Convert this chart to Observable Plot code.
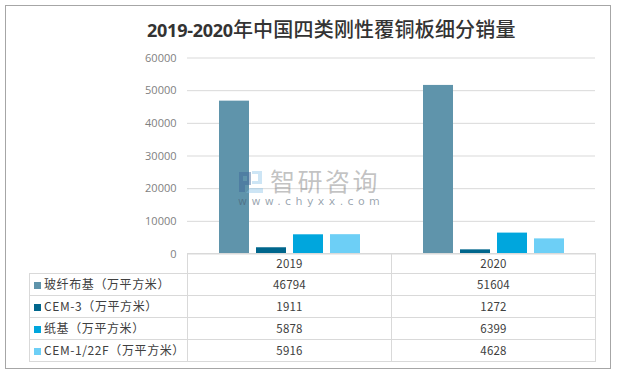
<!DOCTYPE html>
<html><head><meta charset="utf-8">
<script src="https://cdn.jsdelivr.net/npm/d3@7"></script>
<script src="https://cdn.jsdelivr.net/npm/@observablehq/plot@0.6"></script>
<style>
html,body{margin:0;padding:0;background:#fff;width:617px;height:377px;overflow:hidden}
#page{position:relative;width:617px;height:377px;font-family:"Noto Sans CJK SC","Noto Sans",sans-serif}
#frame{position:absolute;left:5px;top:5px;width:604px;height:362px;border:1px solid #a6a6a6;box-sizing:content-box}
#title{position:absolute;left:147px;top:16px;font-size:20px;font-weight:500;letter-spacing:.2px;color:#333;line-height:26px;white-space:nowrap}
#title b{font-family:"Noto Sans","Open Sans",sans-serif;font-weight:700;font-size:18px;letter-spacing:-.25px}
#chart{position:absolute;left:0;top:0}
#chart svg{display:block;background:transparent}
table{position:absolute;left:29px;top:253px;border-collapse:collapse;table-layout:fixed;width:566px;font-size:11.5px;color:#404040}
td{border:1px solid #d9d9d9;padding:0 0 2px 0;text-align:center;height:19px;line-height:16px;letter-spacing:.2px;overflow:hidden}
tr:nth-of-type(1) td{height:17px}
tr:nth-of-type(1) td:first-child{border:0;border-right:1px solid #d9d9d9;border-bottom:1px solid #d9d9d9}
td.k{text-align:left;padding-left:4px;white-space:nowrap;font-size:12px;letter-spacing:.6px}
td.k i{display:inline-block;width:7px;height:7px;margin:0 3px 0 0;vertical-align:0px}
#wm{position:absolute;left:238px;top:168px;width:146px;height:40px;pointer-events:none}
#wm .cn{position:absolute;left:32px;top:-3px;font-size:25px;letter-spacing:2.5px;line-height:30px;color:rgba(120,120,120,.45);white-space:nowrap}
#wm .en{position:absolute;left:0;top:27px;font-size:11px;letter-spacing:4.4px;line-height:14px;color:rgba(70,90,110,.55);white-space:nowrap;font-family:"DejaVu Sans"}
#wm svg{position:absolute;left:0;top:1px}
</style></head><body>
<div id="page">
<div id="frame"></div>
<div id="title"><b>2019-2020</b>年中国四类刚性覆铜板细分销量</div>
<div id="chart"></div>
<table id="tbl"></table>
<div id="wm"><svg width="26" height="26"><path d="M1 3h12v13H7v7H1z M5 7v5h4V7z" fill-rule="evenodd" fill="rgba(60,100,150,.45)"/><path d="M14 2h10v13H14v-3h6V5h-6zM8 24h17v-5H12" fill="rgba(130,190,230,.4)"/></svg><div class="cn">智研咨询</div><div class="en">www.chyxx.com</div></div>
</div>
<script>
const years = ["2019", "2020"];
const series = ["玻纤布基\uFF08万平方米\uFF09", "CEM-3\uFF08万平方米\uFF09", "纸基\uFF08万平方米\uFF09", "CEM-1/22F\uFF08万平方米\uFF09"];
const colors = ["#5f94ab", "#00668c", "#00a6dd", "#6dcff6"];
const values2019 = [46794, 1911, 5878, 5916];
const values2020 = [51604, 1272, 6399, 4628];
const yTicks = [0, 10000, 20000, 30000, 40000, 50000, 60000];

const rows = series.flatMap((s, i) => [
  {year: years[0], series: s, value: values2019[i]},
  {year: years[1], series: s, value: values2020[i]}
]);

const plot = Plot.plot({
  width: 617, height: 264,
  marginLeft: 187, marginRight: 22, marginTop: 57.5, marginBottom: 10.5,
  style: {background: "transparent", fontFamily: "'Open Sans',sans-serif"},
  fx: {domain: years, padding: 0, axis: null},
  x: {domain: series, paddingInner: 7 / 37, paddingOuter: 63 / 74, axis: null},
  y: {domain: [0, 60000], ticks: yTicks, axis: null},
  color: {domain: series, range: colors},
  marks: [
    Plot.ruleY(yTicks, {stroke: "#d9d9d9", strokeWidth: 1, facet: "exclude"}),
    Plot.barY(rows, {fx: "year", x: "series", y: "value", fill: "series"}),
    Plot.axisY({ticks: yTicks, tickSize: 0, tickPadding: 11, tickFormat: d => String(d), fontSize: 11, color: "#7f7f7f", anchor: "left", label: null})
  ]
});
document.getElementById("chart").appendChild(plot);

const tbl = d3.select("#tbl");
tbl.append("colgroup").selectAll("col").data([158, 204, 204]).join("col").attr("width", d => d);
const head = tbl.append("tr");
head.append("td");
years.forEach(y => head.append("td").text(y));
series.forEach((s, i) => {
  const tr = tbl.append("tr");
  const k = tr.append("td").attr("class", "k");
  k.append("i").style("background", colors[i]);
  k.append("span").text(s);
  tr.append("td").text(values2019[i]);
  tr.append("td").text(values2020[i]);
});
</script>
</body></html>
